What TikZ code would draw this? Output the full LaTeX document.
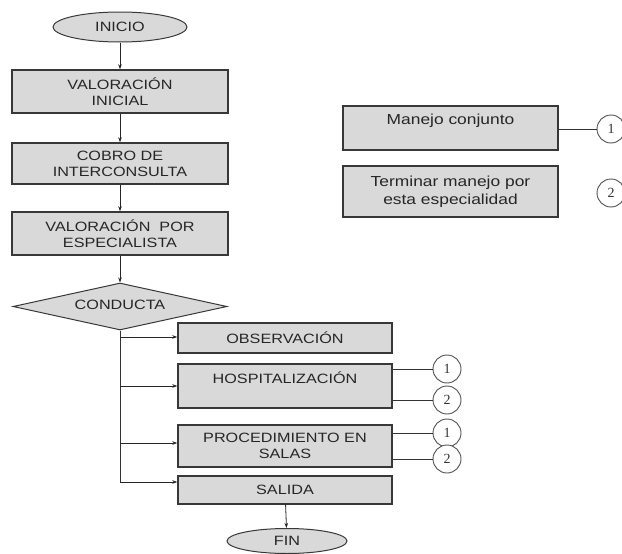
\documentclass[tikz,border=0pt]{standalone}
\usepackage{fontspec}
\setmainfont[FakeStretch=1.2]{Liberation Sans}
\newfontfamily\numfont{Liberation Serif}
\usetikzlibrary{shapes.geometric,arrows.meta,calc}
\definecolor{boxfill}{HTML}{D9D9D9}
\definecolor{boxline}{HTML}{383838}
\definecolor{circline}{HTML}{505050}
\begin{document}
\begin{tikzpicture}[x=1pt,y=-1pt,
  stepbox/.style={draw=boxline,line width=1.4pt,fill=boxfill,minimum width=216pt,align=center,inner sep=2pt,text=black!85,font=\fontsize{13.5}{16}\selectfont},
  legbox/.style={draw=boxline,line width=1.4pt,fill=boxfill,minimum width=215pt,align=center,inner sep=2pt,text=black!85,font=\fontsize{14.5}{18}\selectfont},
  term/.style={ellipse,draw=boxline,line width=1pt,fill=boxfill,inner sep=0pt,text=black!85,font=\fontsize{13.5}{16}\selectfont},
  decision/.style={diamond,draw=boxline,line width=1pt,fill=boxfill,aspect=4.55,minimum width=214pt,minimum height=47pt,inner sep=0pt,text=black!85,font=\fontsize{13.5}{16}\selectfont},
  conn/.style={draw=circline,line width=0.9pt,fill=white,circle,minimum size=28pt,inner sep=0pt,text=black!80,font=\numfont\fontsize{14}{15}\selectfont},
  arr/.style={draw=black!85,line width=0.8pt,-{Stealth[length=5pt,width=3.5pt]}},
  ln/.style={draw=black!80,line width=0.8pt}]
\useasboundingbox (0,0) rectangle (622,554);
% main flow
\node[term,minimum width=134pt,minimum height=30pt] (inicio) at (120,27) {INICIO};
\node[stepbox,minimum height=43pt] (vi) at (120,91.5) {VALORACIÓN\\INICIAL};
\node[stepbox,minimum height=41pt] (cobro) at (120,163.5) {COBRO DE\\INTERCONSULTA};
\node[stepbox,minimum height=43pt] (vpe) at (120,233.5) {VALORACIÓN\ \ POR\\ESPECIALISTA};
\node[decision] (conducta) at (120,306.5) {\raisebox{3pt}{CONDUCTA}};
\node[stepbox,minimum width=214pt,minimum height=30pt] (obs) at (285,338) {OBSERVACIÓN};
\node[stepbox,minimum width=214pt,minimum height=44pt] (hosp) at (285,386) {HOSPITALIZACIÓN\\\mbox{}};
\node[stepbox,minimum width=214pt,minimum height=42pt] (proc) at (285,446) {PROCEDIMIENTO EN\\SALAS};
\node[stepbox,minimum width=214pt,minimum height=28pt] (salida) at (285,490) {SALIDA};
\node[term,minimum width=120pt,minimum height=25pt] (fin) at (287,541) {FIN};
% connectors circles
\node[conn] (c1h) at (447,369) {1};
\node[conn] (c2h) at (447,400) {2};
\node[conn] (c1p) at (447,433) {1};
\node[conn] (c2p) at (447,459) {2};
% legend
\node[legbox,minimum height=44pt] (mc) at (450.5,128) {Manejo conjunto\\\mbox{}};
\node[legbox,minimum height=51pt] (tm) at (450.5,191.5) {Terminar manejo por\\esta especialidad};
\node[conn] (l1) at (611,129) {1};
\node[conn] (l2) at (611,193) {2};
% entry points
\coordinate (oIn) at ([yshift=1pt]obs.west);
\coordinate (hIn) at (hosp.west);
\coordinate (pIn) at ([yshift=3pt]proc.west);
\coordinate (sIn) at ([yshift=8pt]salida.west);
\coordinate (tEnd) at (conducta.south |- sIn);
% arrows
\draw[arr] (inicio) -- (vi);
\draw[arr] (vi) -- (cobro);
\draw[arr] (cobro) -- (vpe);
\draw[arr] (vpe) -- (conducta);
\draw[ln] (conducta.south) -- (tEnd);
\draw[arr] (tEnd) -- (sIn);
\draw[arr] (conducta.south |- oIn) -- (oIn);
\draw[arr] (conducta.south |- hIn) -- (hIn);
\draw[arr] (conducta.south |- pIn) -- (pIn);
\draw[arr] (salida) -- (fin);
\draw[ln] (hosp.east |- c1h) -- (c1h);
\draw[ln] (hosp.east |- c2h) -- (c2h);
\draw[ln] (proc.east |- c1p) -- (c1p);
\draw[ln] (proc.east |- c2p) -- (c2p);
\draw[ln] (mc.east |- l1) -- (l1);
\end{tikzpicture}
\end{document}
